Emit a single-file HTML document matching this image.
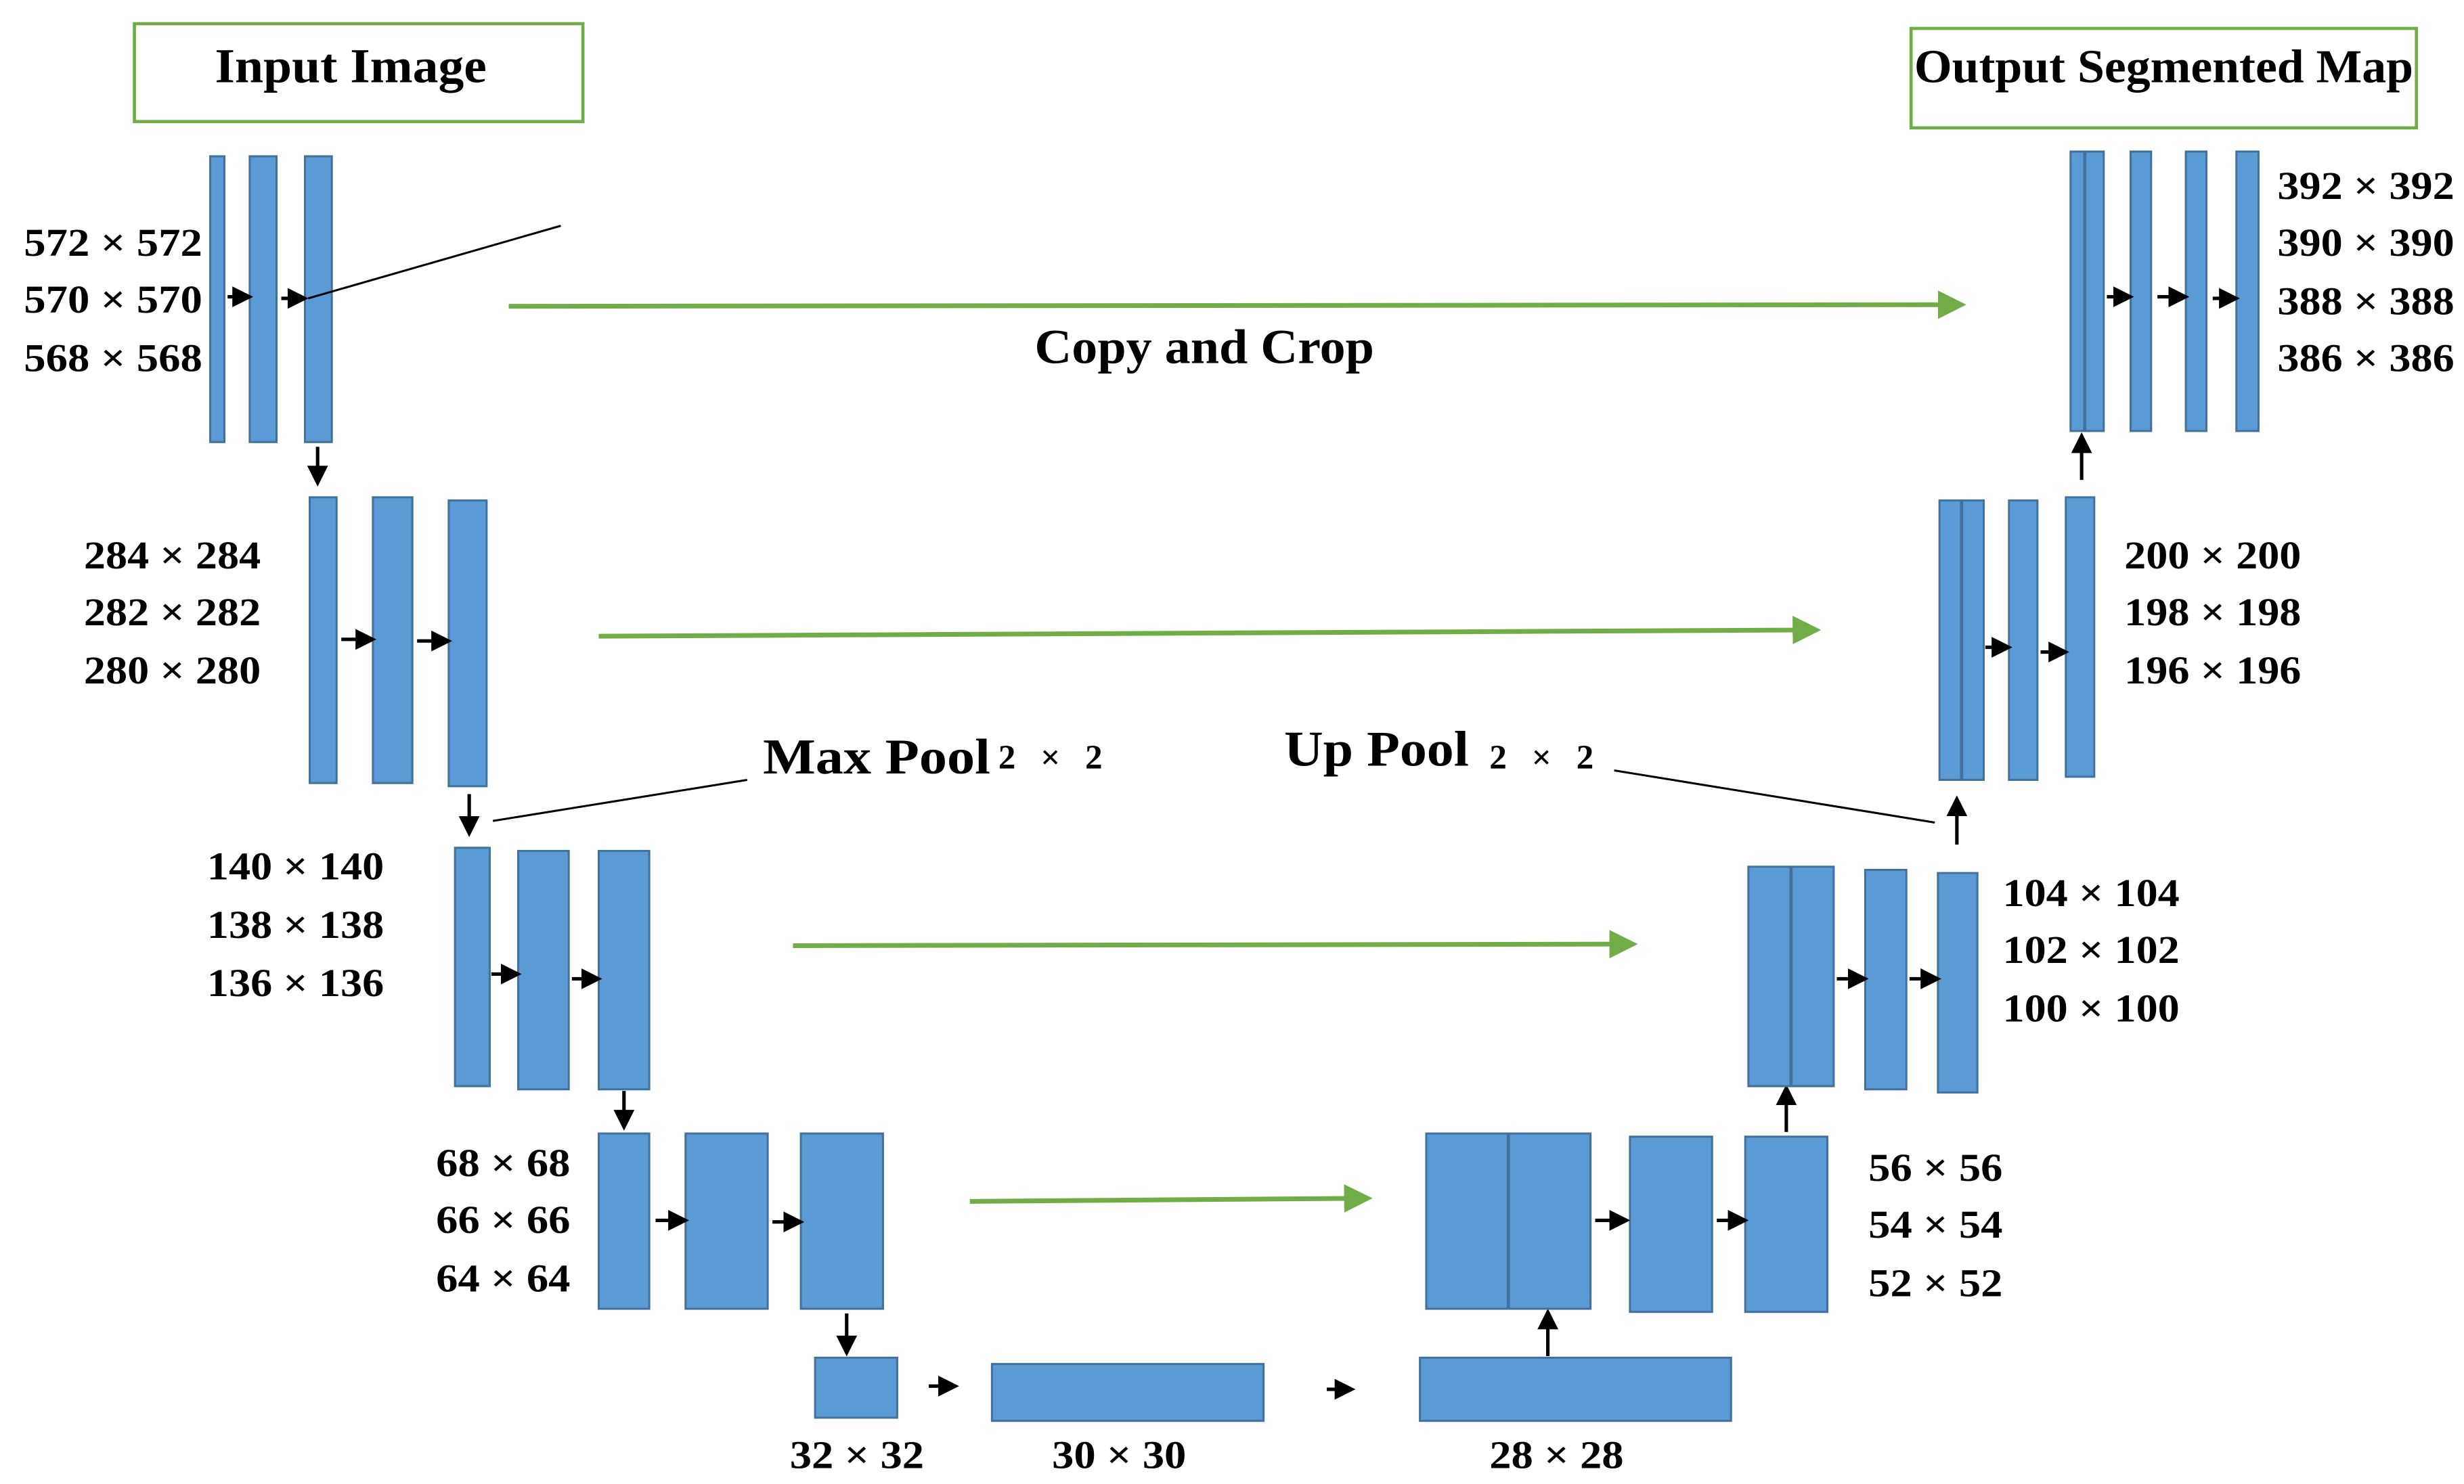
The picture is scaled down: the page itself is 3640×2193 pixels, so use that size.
<!DOCTYPE html>
<html><head><meta charset="utf-8"><style>
html,body{margin:0;padding:0;background:#fff;}
svg{display:block;}
text{font-family:"Liberation Serif",serif;font-weight:bold;fill:#000;}
.b{fill:#5b9bd5;stroke:#41719c;stroke-width:1.3;}
.g{stroke:#70ad47;stroke-width:3;fill:none;}
.k{stroke:#000;stroke-width:2.2;fill:none;}
.t{font-size:25px;}
</style></head><body>
<svg width="3640" height="2193" viewBox="0 0 1560 940" xmlns="http://www.w3.org/2000/svg">
<defs>
<marker id="ga" markerWidth="6" markerHeight="6" refX="5" refY="3" orient="auto" markerUnits="strokeWidth"><path d="M0,0 L6,3 L0,6 z" fill="#70ad47"/></marker>
<marker id="ka" markerWidth="6" markerHeight="6" refX="5" refY="3" orient="auto" markerUnits="strokeWidth"><path d="M0,0 L6,3 L0,6 z" fill="#000"/></marker>
</defs>
<rect x="85" y="15" width="284" height="62" fill="none" stroke="#70ad47" stroke-width="2"/>
<text x="136" y="52" font-size="31" textLength="172" lengthAdjust="spacingAndGlyphs">Input Image</text>
<rect x="1210" y="18" width="320" height="63" fill="none" stroke="#70ad47" stroke-width="2"/>
<text x="1212" y="52" font-size="30" textLength="316" lengthAdjust="spacingAndGlyphs">Output Segmented Map</text>

<rect class="b" x="133" y="99" width="9" height="181"/>
<rect class="b" x="158" y="99" width="17" height="181"/>
<rect class="b" x="193" y="99" width="17" height="181"/>
<text class="t" x="15" y="162" textLength="113" lengthAdjust="spacingAndGlyphs">572 × 572</text>
<text class="t" x="15" y="198" textLength="113" lengthAdjust="spacingAndGlyphs">570 × 570</text>
<text class="t" x="15" y="235" textLength="113" lengthAdjust="spacingAndGlyphs">568 × 568</text>
<line class="k" x1="144" y1="188" x2="158" y2="188" marker-end="url(#ka)"/>
<line class="k" x1="178" y1="189" x2="193" y2="189" marker-end="url(#ka)"/>
<line x1="355" y1="143" x2="195" y2="189" stroke="#000" stroke-width="1.3"/>
<line class="k" x1="201" y1="283" x2="201" y2="306" marker-end="url(#ka)"/>
<line class="g" x1="322" y1="194" x2="1242" y2="193" marker-end="url(#ga)"/>
<text x="655" y="230" font-size="31" textLength="215" lengthAdjust="spacingAndGlyphs">Copy and Crop</text>

<rect class="b" x="196" y="315" width="17" height="181"/>
<rect class="b" x="236" y="315" width="25" height="181"/>
<rect class="b" x="284" y="317" width="24" height="181"/>
<text class="t" x="53" y="360" textLength="112" lengthAdjust="spacingAndGlyphs">284 × 284</text>
<text class="t" x="53" y="396" textLength="112" lengthAdjust="spacingAndGlyphs">282 × 282</text>
<text class="t" x="53" y="433" textLength="112" lengthAdjust="spacingAndGlyphs">280 × 280</text>
<line class="k" x1="216" y1="405" x2="236" y2="405" marker-end="url(#ka)"/>
<line class="k" x1="264" y1="406" x2="284" y2="406" marker-end="url(#ka)"/>
<line class="k" x1="297" y1="503" x2="297" y2="528" marker-end="url(#ka)"/>
<line class="g" x1="379" y1="403" x2="1150" y2="399" marker-end="url(#ga)"/>
<text x="483" y="490" font-size="32" textLength="144" lengthAdjust="spacingAndGlyphs">Max Pool</text>
<text x="632" y="487" font-size="22" textLength="66" lengthAdjust="spacing">2 ×  2</text>
<line x1="473" y1="494" x2="312" y2="520" stroke="#000" stroke-width="1.3"/>

<rect class="b" x="288" y="537" width="22" height="151"/>
<rect class="b" x="328" y="539" width="32" height="151"/>
<rect class="b" x="379" y="539" width="32" height="151"/>
<text class="t" x="131" y="557" textLength="112" lengthAdjust="spacingAndGlyphs">140 × 140</text>
<text class="t" x="131" y="594" textLength="112" lengthAdjust="spacingAndGlyphs">138 × 138</text>
<text class="t" x="131" y="631" textLength="112" lengthAdjust="spacingAndGlyphs">136 × 136</text>
<line class="k" x1="311" y1="617" x2="328" y2="617" marker-end="url(#ka)"/>
<line class="k" x1="362" y1="620" x2="379" y2="620" marker-end="url(#ka)"/>
<line class="k" x1="395" y1="691" x2="395" y2="714" marker-end="url(#ka)"/>
<line class="g" x1="502" y1="599" x2="1034" y2="598" marker-end="url(#ga)"/>

<rect class="b" x="379" y="718" width="32" height="111"/>
<rect class="b" x="434" y="718" width="52" height="111"/>
<rect class="b" x="507" y="718" width="52" height="111"/>
<text class="t" x="276" y="745" textLength="85" lengthAdjust="spacingAndGlyphs">68 × 68</text>
<text class="t" x="276" y="781" textLength="85" lengthAdjust="spacingAndGlyphs">66 × 66</text>
<text class="t" x="276" y="818" textLength="85" lengthAdjust="spacingAndGlyphs">64 × 64</text>
<line class="k" x1="415" y1="773" x2="434" y2="773" marker-end="url(#ka)"/>
<line class="k" x1="489" y1="774" x2="507" y2="774" marker-end="url(#ka)"/>
<line class="k" x1="536" y1="832" x2="536" y2="857" marker-end="url(#ka)"/>
<line class="g" x1="614" y1="761" x2="866" y2="759" marker-end="url(#ga)"/>

<rect class="b" x="516" y="860" width="52" height="38"/>
<rect class="b" x="628" y="864" width="172" height="36"/>
<rect class="b" x="899" y="860" width="197" height="40"/>
<line class="k" x1="588" y1="878" x2="605" y2="878" marker-end="url(#ka)"/>
<line class="k" x1="840" y1="880" x2="856" y2="880" marker-end="url(#ka)"/>
<text class="t" x="500" y="930" textLength="85" lengthAdjust="spacingAndGlyphs">32 × 32</text>
<text class="t" x="666" y="930" textLength="85" lengthAdjust="spacingAndGlyphs">30 × 30</text>
<text class="t" x="943" y="930" textLength="85" lengthAdjust="spacingAndGlyphs">28 × 28</text>
<line class="k" x1="980" y1="859" x2="980" y2="831" marker-end="url(#ka)"/>

<rect class="b" x="903" y="718" width="104" height="111"/>
<line x1="955" y1="718" x2="955" y2="829" stroke="#41719c" stroke-width="2"/>
<rect class="b" x="1032" y="720" width="52" height="111"/>
<rect class="b" x="1105" y="720" width="52" height="111"/>
<line class="k" x1="1010" y1="773" x2="1030" y2="773" marker-end="url(#ka)"/>
<line class="k" x1="1087" y1="773" x2="1105" y2="773" marker-end="url(#ka)"/>
<line class="k" x1="1131" y1="717" x2="1131" y2="689" marker-end="url(#ka)"/>
<text class="t" x="1183" y="748" textLength="85" lengthAdjust="spacingAndGlyphs">56 × 56</text>
<text class="t" x="1183" y="784" textLength="85" lengthAdjust="spacingAndGlyphs">54 × 54</text>
<text class="t" x="1183" y="821" textLength="85" lengthAdjust="spacingAndGlyphs">52 × 52</text>

<rect class="b" x="1107" y="549" width="54" height="139"/>
<line x1="1134" y1="549" x2="1134" y2="688" stroke="#41719c" stroke-width="2"/>
<rect class="b" x="1181" y="551" width="26" height="139"/>
<rect class="b" x="1227" y="553" width="25" height="139"/>
<line class="k" x1="1163" y1="620" x2="1181" y2="620" marker-end="url(#ka)"/>
<line class="k" x1="1209" y1="620" x2="1227" y2="620" marker-end="url(#ka)"/>
<line class="k" x1="1239" y1="535" x2="1239" y2="506" marker-end="url(#ka)"/>
<text class="t" x="1268" y="574" textLength="112" lengthAdjust="spacingAndGlyphs">104 × 104</text>
<text class="t" x="1268" y="610" textLength="112" lengthAdjust="spacingAndGlyphs">102 × 102</text>
<text class="t" x="1268" y="647" textLength="112" lengthAdjust="spacingAndGlyphs">100 × 100</text>
<text x="813" y="485" font-size="32" textLength="117" lengthAdjust="spacingAndGlyphs">Up Pool</text>
<text x="943" y="487" font-size="22" textLength="66" lengthAdjust="spacing">2 ×  2</text>
<line x1="1022" y1="488" x2="1225" y2="521" stroke="#000" stroke-width="1.3"/>

<rect class="b" x="1228" y="317" width="28" height="177"/>
<line x1="1242" y1="317" x2="1242" y2="494" stroke="#41719c" stroke-width="2"/>
<rect class="b" x="1272" y="317" width="18" height="177"/>
<rect class="b" x="1308" y="315" width="18" height="177"/>
<line class="k" x1="1257" y1="410" x2="1272" y2="410" marker-end="url(#ka)"/>
<line class="k" x1="1292" y1="413" x2="1308" y2="413" marker-end="url(#ka)"/>
<line class="k" x1="1318" y1="304" x2="1318" y2="276" marker-end="url(#ka)"/>
<text class="t" x="1345" y="360" textLength="112" lengthAdjust="spacingAndGlyphs">200 × 200</text>
<text class="t" x="1345" y="396" textLength="112" lengthAdjust="spacingAndGlyphs">198 × 198</text>
<text class="t" x="1345" y="433" textLength="112" lengthAdjust="spacingAndGlyphs">196 × 196</text>

<rect class="b" x="1311" y="96" width="21" height="177"/>
<line x1="1320" y1="96" x2="1320" y2="273" stroke="#41719c" stroke-width="2"/>
<rect class="b" x="1349" y="96" width="13" height="177"/>
<rect class="b" x="1384" y="96" width="13" height="177"/>
<rect class="b" x="1416" y="96" width="14" height="177"/>
<line class="k" x1="1334" y1="188" x2="1349" y2="188" marker-end="url(#ka)"/>
<line class="k" x1="1366" y1="188" x2="1384" y2="188" marker-end="url(#ka)"/>
<line class="k" x1="1401" y1="189" x2="1416" y2="189" marker-end="url(#ka)"/>
<text class="t" x="1442" y="126" textLength="112" lengthAdjust="spacingAndGlyphs">392 × 392</text>
<text class="t" x="1442" y="162" textLength="112" lengthAdjust="spacingAndGlyphs">390 × 390</text>
<text class="t" x="1442" y="199" textLength="112" lengthAdjust="spacingAndGlyphs">388 × 388</text>
<text class="t" x="1442" y="235" textLength="112" lengthAdjust="spacingAndGlyphs">386 × 386</text>
</svg>
</body></html>
